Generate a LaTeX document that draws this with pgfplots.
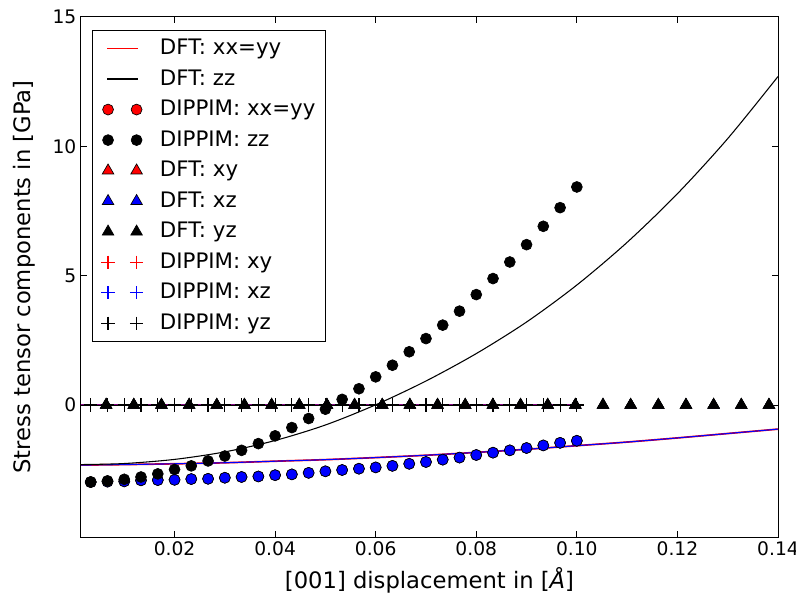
\documentclass[border=0pt]{standalone}
\usepackage{pgfplots}
\usepackage{pgfplotstable}
\pgfplotsset{compat=1.18}
\usepackage{fontspec}
\setmainfont{DejaVu Sans}

% DFT curves (normal stresses)
\pgfplotstableread{
x       xx      yy      zz
0.0014  -2.32   -2.32   -2.30
0.01    -2.30   -2.30   -2.26
0.02    -2.27   -2.27   -2.10
0.03    -2.23   -2.23   -1.81
0.04    -2.17   -2.17   -1.37
0.05    -2.11   -2.11   -0.77
0.06    -2.03   -2.03   0.01
0.07    -1.94   -1.94   0.93
0.08    -1.83   -1.83   1.99
0.09    -1.71   -1.71   3.21
0.10    -1.57   -1.57   4.64
0.11    -1.43   -1.43   6.29
0.12    -1.27   -1.27   8.17
0.13    -1.10   -1.10   10.30
0.14    -0.93   -0.93   12.70
}\dftline

% DFT shear stresses
\pgfplotstableread{
x       xy  xz  yz
0.0064  0   0   0
0.0119  0   0   0
0.0174  0   0   0
0.0229  0   0   0
0.0284  0   0   0
0.0339  0   0   0
0.0393  0   0   0
0.0448  0   0   0
0.0503  0   0   0
0.0558  0   0   0
0.0613  0   0   0
0.0668  0   0   0
0.0723  0   0   0
0.0778  0   0   0
0.0833  0   0   0
0.0888  0   0   0
0.0942  0   0   0
0.0997  0   0   0
0.1052  0   0   0
0.1107  0   0   0
0.1162  0   0   0
0.1217  0   0   0
0.1272  0   0   0
0.1327  0   0   0
0.1382  0   0   0
}\dftshear

% DIPPIM
\pgfplotstableread{
x        xx      yy      zz      xy  xz  yz
0.00333  -2.98   -2.98   -2.97   0   0   0
0.00667  -2.96   -2.96   -2.93   0   0   0
0.01     -2.95   -2.95   -2.87   0   0   0
0.01333  -2.91   -2.91   -2.78   0   0   0
0.01667  -2.90   -2.90   -2.66   0   0   0
0.02     -2.89   -2.89   -2.49   0   0   0
0.02333  -2.86   -2.86   -2.35   0   0   0
0.02667  -2.85   -2.85   -2.16   0   0   0
0.03     -2.81   -2.81   -1.97   0   0   0
0.03333  -2.78   -2.78   -1.75   0   0   0
0.03667  -2.76   -2.76   -1.49   0   0   0
0.04     -2.71   -2.71   -1.19   0   0   0
0.04333  -2.68   -2.68   -0.87   0   0   0
0.04667  -2.62   -2.62   -0.52   0   0   0
0.05     -2.56   -2.56   -0.16   0   0   0
0.05333  -2.51   -2.51   0.22    0   0   0
0.05667  -2.46   -2.46   0.63    0   0   0
0.06     -2.41   -2.41   1.09    0   0   0
0.06333  -2.35   -2.35   1.54    0   0   0
0.06667  -2.27   -2.27   2.06    0   0   0
0.07     -2.20   -2.20   2.57    0   0   0
0.07333  -2.11   -2.11   3.09    0   0   0
0.07667  -2.03   -2.03   3.63    0   0   0
0.08     -1.93   -1.93   4.27    0   0   0
0.08333  -1.84   -1.84   4.89    0   0   0
0.08667  -1.75   -1.75   5.53    0   0   0
0.09     -1.66   -1.66   6.20    0   0   0
0.09333  -1.56   -1.56   6.91    0   0   0
0.09667  -1.46   -1.46   7.63    0   0   0
0.1      -1.38   -1.38   8.43    0   0   0
}\dippim

\pgfplotsset{
  legline/.style={legend image code/.code={\draw[##1] (0pt,0pt) -- (23pt,0pt);}},
  legmark/.style={legend image code/.code={\draw[##1] plot coordinates {(0.6pt,0pt) (22pt,0pt)};}},
}

\begin{document}
\begin{tikzpicture}
\path[use as bounding box] (-60.75pt,-48pt) rectangle (536.25pt,402.75pt);
\begin{axis}[
  scale only axis, width=522.75pt, height=390pt,
  xmin=0.0014, xmax=0.14, ymin=-5.1, ymax=15,
  xtick={0.02,0.04,0.06,0.08,0.10,0.12,0.14},
  ytick={0,5,10,15},
  scaled x ticks=false,
  xticklabel style={/pgf/number format/.cd, fixed, fixed zerofill, precision=2},
  /pgf/number format/assume math mode=true,
  tick align=inside, major tick length=4.5pt,
  tick style={black, line width=0.75pt},
  axis line style={black, line width=0.75pt},
  tick label style={font=\fontsize{14}{17}\selectfont},
  xlabel={[001] displacement in [\textit{Å}]},
  ylabel={Stress tensor components in [GPa]},
  every axis x label/.style={at={(axis description cs:0.5,-0.084)}, anchor=center, font=\fontsize{17}{20}\selectfont},
  every axis y label/.style={at={(axis description cs:-0.081,0.5)}, rotate=90, anchor=center, font=\fontsize{17}{20}\selectfont},
  legend cell align=left,
  legend style={at={(axis description cs:0.0161,0.975)}, anchor=north west,
    draw=black, line width=0.75pt, fill=white,
    inner xsep=6.5pt, inner ysep=6pt, row sep=7.9pt,
    font=\fontsize{16}{18}\selectfont,
    nodes={inner xsep=1pt, inner ysep=0pt, text height=12pt, text depth=3pt},
    /tikz/every odd column/.append style={column sep=11.5pt}},
]
% DFT xx=yy
\addplot[red, line width=1.3pt, smooth, legline] table[x=x, y=xx] {\dftline};
\addplot[blue, line width=0.8pt, smooth, forget plot] table[x=x, y=yy] {\dftline};
% DFT zz
\addplot[black, line width=0.8pt, smooth, legline] table[x=x, y=zz] {\dftline};
% zero lines of the shear components
\addplot[red!50!blue, line width=2pt, forget plot] coordinates {(0,0) (0.1,0)};
\addplot[black, line width=0.7pt, forget plot] coordinates {(0,0) (0.1,0)};
% DIPPIM xx=yy
\addplot[only marks, mark=*, mark size=4.1pt, mark options={draw=black, fill=red, line width=0.5pt}, legmark] table[x=x, y=xx] {\dippim};
\addplot[only marks, mark=*, mark size=4.1pt, mark options={draw=black, fill=blue, line width=0.5pt}, forget plot] table[x=x, y=yy] {\dippim};
% DIPPIM zz
\addplot[only marks, mark=*, mark size=4.1pt, mark options={draw=black, fill=black, line width=0.5pt}, legmark] table[x=x, y=zz] {\dippim};
% DFT shear
\addplot[only marks, mark=triangle*, mark size=5pt, mark options={draw=black, fill=red, line width=0.5pt}, legmark] table[x=x, y=xy] {\dftshear};
\addplot[only marks, mark=triangle*, mark size=5pt, mark options={draw=black, fill=blue, line width=0.5pt}, legmark] table[x=x, y=xz] {\dftshear};
\addplot[only marks, mark=triangle*, mark size=5pt, mark options={draw=black, fill=black, line width=0.5pt}, legmark] table[x=x, y=yz] {\dftshear};
% DIPPIM shear
\addplot[only marks, mark=+, mark size=5pt, mark options={draw=red, line width=0.9pt}, legmark] table[x=x, y=xy] {\dippim};
\addplot[only marks, mark=+, mark size=5pt, mark options={draw=blue, line width=0.9pt}, legmark] table[x=x, y=xz] {\dippim};
\addplot[only marks, mark=+, mark size=5pt, mark options={draw=black, line width=0.9pt}, legmark] table[x=x, y=yz] {\dippim};
\legend{DFT: xx=yy, DFT: zz, DIPPIM: xx=yy, DIPPIM: zz, DFT: xy, DFT: xz, DFT: yz, DIPPIM: xy, DIPPIM: xz, DIPPIM: yz}
\end{axis}
\end{tikzpicture}
\end{document}
